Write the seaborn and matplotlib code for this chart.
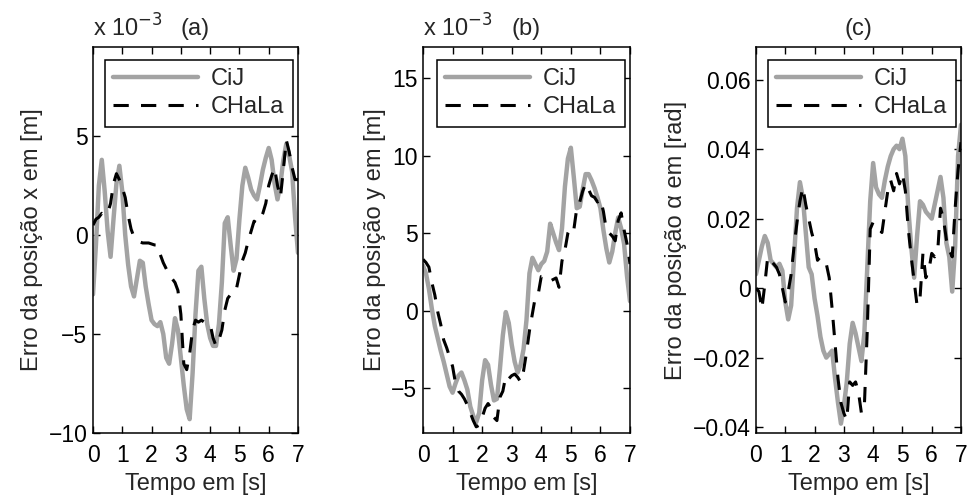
import numpy as np
import pandas as pd
import matplotlib
matplotlib.use("Agg")
import matplotlib.pyplot as plt
import seaborn as sns

# Time base (s)
tempo = np.round(np.arange(0, 7.01, 0.1), 1)

# (a) x-position error, in units of 1e-3 m
erro_x_cij = [-3.0, -0.5, 2.5, 3.8, 2.2, 0.2, -1.1, 0.8, 2.6, 3.5,
              2.2, 0.0, -1.5, -2.6, -3.1, -2.2, -1.3, -1.4, -2.6, -3.5,
              -4.3, -4.5, -4.6, -4.4, -5.0, -6.2, -6.5, -5.5, -4.2, -4.8,
              -6.2, -7.6, -8.8, -9.3, -7.0, -4.0, -1.8, -1.6, -3.2, -4.5,
              -5.2, -5.6, -5.6, -4.5, -2.4, 0.6, 0.9, -0.5, -1.8, -1.2,
              0.8, 2.5, 3.4, 2.9, 2.3, 2.0, 1.8, 2.5, 3.3, 3.9,
              4.4, 3.8, 2.6, 1.8, 2.6, 3.8, 4.6, 4.0, 3.2, 0.9, -0.9]
erro_x_chala = [0.5, 0.8, 0.9, 1.1, 1.0, 1.1, 1.6, 2.6, 3.1, 2.8,
                2.4, 1.9, 1.0, 0.3, -0.1, -0.2, -0.35, -0.4, -0.4, -0.4,
                -0.45, -0.5, -0.5, -1.0, -1.4, -1.7, -2.0, -2.2, -2.4, -2.8,
                -4.0, -6.5, -6.8, -6.0, -4.8, -4.3, -4.4, -4.3, -4.4, -4.4,
                -4.5, -5.2, -5.6, -5.3, -4.8, -3.8, -3.2, -3.0, -3.0, -2.7,
                -2.0, -1.3, -0.9, -0.3, 0.2, 0.7, 0.6, 0.8, 1.1, 1.6,
                2.5, 3.0, 3.4, 2.5, 1.9, 3.3, 4.8, 4.2, 3.4, 2.8, 2.8]

# (b) y-position error, in units of 1e-3 m
erro_y_cij = [2.9, 2.4, 1.4, 0.1, -1.0, -1.8, -2.6, -3.3, -4.1, -4.9,
              -5.3, -4.7, -4.2, -4.0, -4.5, -5.1, -6.2, -6.8, -7.2, -6.6,
              -4.5, -3.2, -3.5, -4.8, -5.8, -5.7, -3.8, -1.6, -0.1, -0.8,
              -2.2, -3.3, -4.0, -3.5, -2.5, -0.6, 2.4, 3.4, 3.0, 2.6,
              3.0, 3.2, 3.8, 5.6, 5.0, 4.4, 3.9, 5.3, 8.0, 9.8,
              10.5, 8.6, 6.6, 6.7, 7.8, 8.8, 8.8, 8.4, 7.9, 7.3,
              6.6, 5.2, 4.0, 3.1, 3.8, 5.0, 6.0, 5.3, 4.3, 2.2, 0.6]
erro_y_chala = [3.3, 3.1, 2.8, 1.8, 1.0, -0.1, -0.9, -1.9, -2.4, -3.0,
                -3.6, -4.7, -5.2, -5.4, -5.7, -6.1, -6.6, -7.1, -7.5, -7.4,
                -6.9, -6.3, -6.0, -6.3, -6.9, -7.1, -5.6, -5.2, -4.2, -4.4,
                -4.2, -4.1, -4.3, -4.6, -3.9, -2.7, -1.3, -0.2, 0.9, 1.1,
                2.2, 2.2, 2.0, 1.9, 2.0, 2.1, 1.5, 3.2, 3.9, 5.0,
                5.4, 5.2, 6.6, 7.0, 7.7, 8.2, 7.8, 7.4, 7.3, 7.0,
                7.2, 6.4, 5.2, 5.0, 4.8, 4.5, 5.8, 6.3, 5.2, 4.3, 3.0]

# (c) orientation error, rad
erro_a_cij = [0.004, 0.008, 0.012, 0.015, 0.013, 0.008, 0.007, 0.006, 0.007, 0.005,
              -0.004, -0.009, -0.005, 0.009, 0.023, 0.0305, 0.026, 0.016, 0.006, 0.004,
              -0.003, -0.008, -0.014, -0.018, -0.020, -0.019, -0.018, -0.026, -0.033, -0.039,
              -0.034, -0.027, -0.016, -0.010, -0.013, -0.017, -0.021, -0.013, 0.006, 0.025,
              0.036, 0.029, 0.027, 0.026, 0.031, 0.035, 0.038, 0.040, 0.041, 0.040,
              0.043, 0.038, 0.023, 0.012, 0.003, 0.015, 0.025, 0.024, 0.022, 0.021,
              0.020, 0.024, 0.028, 0.032, 0.026, 0.013, 0.009, -0.001, 0.012, 0.038, 0.047]
erro_a_chala = [0.000, -0.001, -0.006, 0.001, 0.009, 0.008, 0.007, 0.006, 0.004, 0.000,
                -0.004, -0.001, 0.004, 0.012, 0.019, 0.025, 0.029, 0.024, 0.020, 0.016,
                0.013, 0.008, 0.009, 0.008, 0.007, 0.003, -0.006, -0.016, -0.026, -0.033,
                -0.036, -0.038, -0.027, -0.028, -0.027, -0.030, -0.036, -0.034, -0.012, 0.017,
                0.019, 0.018, 0.017, 0.016, 0.022, 0.028, 0.031, 0.028, 0.033, 0.030,
                0.033, 0.028, 0.017, 0.009, 0.002, -0.005, -0.003, 0.010, 0.003, 0.005,
                0.010, 0.009, 0.010, 0.023, 0.020, 0.014, 0.011, 0.009, 0.023, 0.034, 0.042]

serie_nomes = ["CiJ", "CHaLa"]
xticks = list(range(0, 8))
yticks_a = [-10, -5, 0, 5]
yticks_b = [-5, 0, 5, 10, 15]
yticks_c = [-0.04, -0.02, 0, 0.02, 0.04, 0.06]
ylabels = ["Erro da posição x em [m]", "Erro da posição y em [m]",
           "Erro da posição α em [rad]"]
titulos = ["(a)", "(b)", "(c)"]

sns.set_style("ticks")
plt.rcParams["font.family"] = ["Liberation Sans", "DejaVu Sans"]
plt.rcParams["axes.unicode_minus"] = True

fig = plt.figure(figsize=(9.68, 4.98), dpi=100)
W, H = 968, 498
boxes = [(93, 298), (423, 630), (756, 961)]
top_px, bot_px = 47, 433

paineis = [
    (erro_x_cij, erro_x_chala, (-10, 9.5), yticks_a, True),
    (erro_y_cij, erro_y_chala, (-7.9, 17.0), yticks_b, True),
    (erro_a_cij, erro_a_chala, (-0.0417, 0.0694), yticks_c, False),
]

for i, ((l, r), (cij, chala, ylim, yt, mult)) in enumerate(zip(boxes, paineis)):
    ax = fig.add_axes([l / W, (H - bot_px) / H, (r - l) / W, (bot_px - top_px) / H])
    df = pd.DataFrame({"t": tempo, "CiJ": cij, "CHaLa": chala})
    sns.lineplot(data=df, x="t", y="CiJ", ax=ax, color="#a3a3a3",
                 linewidth=3.2, label=serie_nomes[0])
    sns.lineplot(data=df, x="t", y="CHaLa", ax=ax, color="black",
                 linewidth=2.2, linestyle=(0, (5, 4)), label=serie_nomes[1])
    ax.set_xlim(0, 7)
    ax.set_ylim(*ylim)
    ax.set_xticks(xticks)
    ax.set_yticks(yt)
    if not mult:
        ax.set_yticklabels([f"{v:.2f}".replace("-", "\u2212") if v != 0 else "0" for v in yt])
    ax.tick_params(direction="in", top=True, right=True, length=5, width=1,
                   labelsize=16.5, colors="black")
    ax.tick_params(axis="x", pad=8)
    ax.tick_params(axis="y", pad=4)
    for s in ax.spines.values():
        s.set_visible(True)
        s.set_linewidth(1.1)
        s.set_color("black")
    ax.set_xlabel("Tempo em [s]", fontsize=17, labelpad=4)
    ax.set_ylabel(ylabels[i], fontsize=17, labelpad=4)
    ax.set_title(titulos[i], fontsize=17, pad=9)
    if mult:
        ax.text(0.0, (bot_px - 37) / (bot_px - top_px), r"x 10$^{-3}$",
                transform=ax.transAxes, fontsize=17, ha="left", va="baseline")
    leg = ax.legend(loc="upper right", bbox_to_anchor=(0.975, 0.966),
                    fontsize=17, handlelength=3.6, handletextpad=0.55,
                    borderpad=0.35, labelspacing=0.25, borderaxespad=0,
                    fancybox=False, framealpha=1, edgecolor="black")
    leg.get_frame().set_linewidth(1.1)

fig.savefig("out.png", dpi=100, facecolor="white")
